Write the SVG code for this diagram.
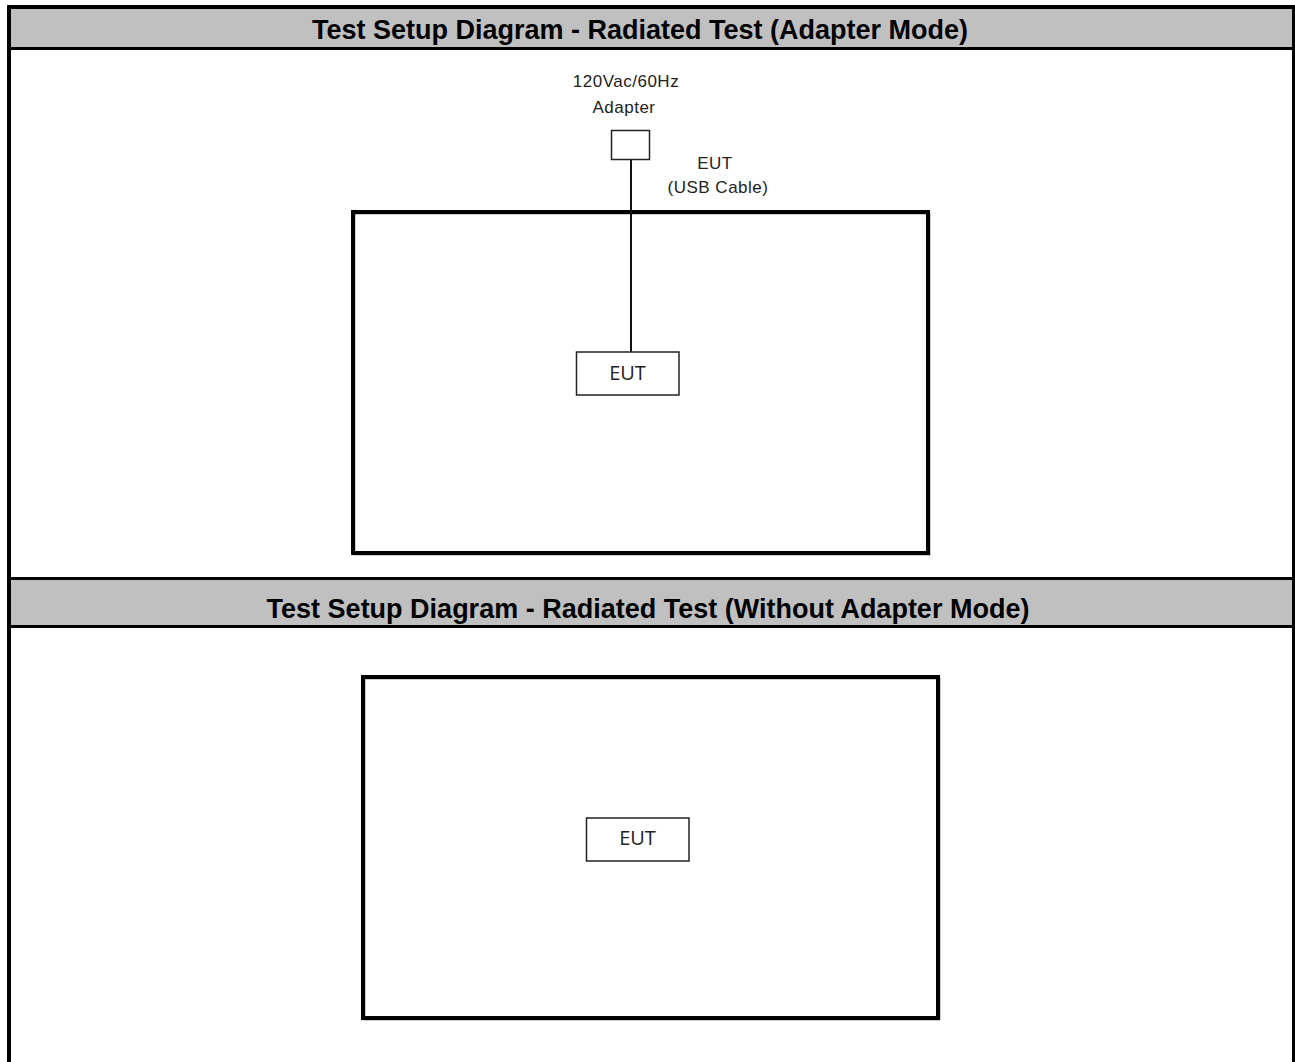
<svg xmlns="http://www.w3.org/2000/svg" width="1295" height="1062" viewBox="0 0 1295 1062">
<style>
.hdr{fill:#c0c0c0}
.ht{font-family:"Liberation Sans",Arial,sans-serif;font-weight:bold;font-size:27px;fill:#000;text-anchor:middle}
.lbl{font-family:"Liberation Sans",Arial,sans-serif;font-size:17px;fill:#222;text-anchor:middle;letter-spacing:0.5px}
.eut{font-family:"Open Sans","Noto Sans",sans-serif;font-size:20px;fill:#222;text-anchor:middle}
.room{fill:none;stroke:#000;stroke-width:4}
.shadow{fill:none;stroke:#9a9a9a;stroke-width:2}
.box{fill:#fff;stroke:#222;stroke-width:1.5}
.cable{stroke:#111;stroke-width:2;fill:none}
</style>
<rect x="0" y="0" width="1295" height="1062" fill="#fff"/>
<g id="frame">
<rect class="hdr" x="11" y="9" width="1282" height="38"/>
<rect class="hdr" x="11" y="580" width="1282" height="45"/>
<rect x="7" y="5" width="1290" height="4" fill="#000"/>
<rect x="7" y="47" width="1290" height="3" fill="#000"/>
<rect x="7" y="577" width="1290" height="3" fill="#000"/>
<rect x="7" y="625" width="1290" height="3" fill="#000"/>
<rect x="7" y="5" width="4" height="1057" fill="#000"/>
<rect x="1292" y="5" width="4" height="1057" fill="#000"/>
</g>
<g id="title1"><text class="ht" x="640" y="39">Test Setup Diagram - Radiated Test (Adapter Mode)</text></g>
<g id="title2"><text class="ht" x="648" y="618">Test Setup Diagram - Radiated Test (Without Adapter Mode)</text></g>
<g id="room1">
<rect class="shadow" x="354.5" y="213.5" width="575" height="341"/>
<rect class="room" x="353" y="212" width="575" height="341"/>
</g>
<g id="room2">
<rect class="shadow" x="364.5" y="678.5" width="575" height="341"/>
<rect class="room" x="363" y="677" width="575" height="341"/>
</g>
<g id="connectors">
<line class="cable" x1="631" y1="160" x2="631" y2="352"/>
</g>
<g id="adapter">
<rect class="box" x="611.5" y="130.5" width="38" height="29"/>
<text class="lbl" x="626" y="87">120Vac/60Hz</text>
<text class="lbl" x="624" y="113">Adapter</text>
</g>
<g id="cable-label">
<text class="lbl" x="715" y="169">EUT</text>
<text class="lbl" x="718" y="193">(USB Cable)</text>
</g>
<g id="eut1">
<rect class="box" x="576.5" y="352" width="102.5" height="43"/>
<text class="eut" x="627.5" y="380">EUT</text>
</g>
<g id="eut2">
<rect class="box" x="586.5" y="818" width="102.5" height="43"/>
<text class="eut" x="637.5" y="845">EUT</text>
</g>
</svg>
